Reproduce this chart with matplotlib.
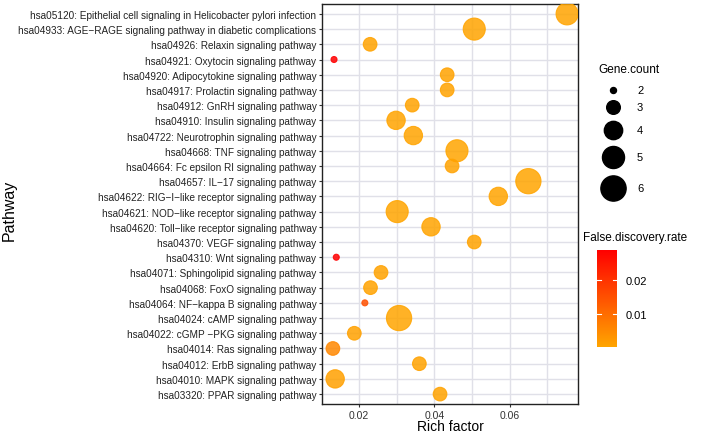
import numpy as np
import matplotlib
matplotlib.use("Agg")
from matplotlib import pyplot as plt
from matplotlib.colors import LinearSegmentedColormap, Normalize
from matplotlib.ticker import MultipleLocator

plt.rcParams['font.family'] = ['Liberation Sans', 'DejaVu Sans']

# pathways, top to bottom
pathways = [
    "hsa05120: Epithelial cell signaling in Helicobacter pylori infection",
    "hsa04933: AGE\u2212RAGE signaling pathway in diabetic complications",
    "hsa04926: Relaxin signaling pathway",
    "hsa04921: Oxytocin signaling pathway",
    "hsa04920: Adipocytokine signaling pathway",
    "hsa04917: Prolactin signaling pathway",
    "hsa04912: GnRH signaling pathway",
    "hsa04910: Insulin signaling pathway",
    "hsa04722: Neurotrophin signaling pathway",
    "hsa04668: TNF signaling pathway",
    "hsa04664: Fc epsilon RI signaling pathway",
    "hsa04657: IL\u221217 signaling pathway",
    "hsa04622: RIG\u2212I\u2212like receptor signaling pathway",
    "hsa04621: NOD\u2212like receptor signaling pathway",
    "hsa04620: Toll\u2212like receptor signaling pathway",
    "hsa04370: VEGF signaling pathway",
    "hsa04310: Wnt signaling pathway",
    "hsa04071: Sphingolipid signaling pathway",
    "hsa04068: FoxO signaling pathway",
    "hsa04064: NF\u2212kappa B signaling pathway",
    "hsa04024: cAMP signaling pathway",
    "hsa04022: cGMP \u2212PKG signaling pathway",
    "hsa04014: Ras signaling pathway",
    "hsa04012: ErbB signaling pathway",
    "hsa04010: MAPK signaling pathway",
    "hsa03320: PPAR signaling pathway",
]
rich_factor = [0.0753, 0.0506, 0.0229, 0.0133, 0.0434, 0.0434, 0.0341, 0.0298,
               0.0344, 0.0460, 0.0447, 0.0650, 0.0570, 0.0301, 0.0391, 0.0506,
               0.0139, 0.0258, 0.0230, 0.0215, 0.0306, 0.0187, 0.0130, 0.0360,
               0.0136, 0.0415]
gene_count = [5, 5, 3, 2, 3, 3, 3, 4, 4, 5, 3, 6, 4, 5, 4, 3,
              2, 3, 3, 2, 6, 3, 3, 3, 4, 3]
fdr = [0.0004, 0.0004, 0.0006, 0.029, 0.0008, 0.0008, 0.0006, 0.0005,
       0.0005, 0.0003, 0.0007, 0.0002, 0.0004, 0.0003, 0.0004, 0.0006,
       0.029, 0.0008, 0.0007, 0.015, 0.0002, 0.0009, 0.0055, 0.0007,
       0.0010, 0.0006]

legend_counts = [2, 3, 4, 5, 6]
fdr_ticks = [0.01, 0.02]


def diam_px(n):
    # area grows linearly with gene count
    return np.sqrt(36 + 150 * (np.asarray(n, dtype=float) - 2))


def size_of(n):
    return (diam_px(n) * 0.72) ** 2


cmap = LinearSegmentedColormap.from_list("fdr", ["#FFA500", "#FF0000"])
norm = Normalize(vmin=0.0002, vmax=0.029)

fig = plt.figure(figsize=(7.08, 4.35), dpi=100)
ax = fig.add_axes([322 / 708, 1 - 405 / 435, 256 / 708, 400 / 435])

y = np.arange(len(pathways))[::-1]
ax.scatter(rich_factor, y, s=size_of(gene_count), c=fdr, cmap=cmap, norm=norm,
           alpha=0.85, edgecolors=cmap(norm(fdr)), linewidths=0.8, zorder=3)

ax.set_yticks(np.arange(len(pathways)))
ax.set_yticklabels(pathways[::-1], fontsize=7.2, color="#222222")
ax.set_ylim(-0.65, len(pathways) - 0.35)
ax.set_xlim(0.0101, 0.0782)
ax.xaxis.set_minor_locator(MultipleLocator(0.01))
ax.set_xticks([0.02, 0.04, 0.06])
ax.set_xticklabels(["0.02", "0.04", "0.06"], fontsize=7.5, color="#333333")
ax.tick_params(axis='x', which='minor', length=0)
ax.tick_params(axis='both', which='major', length=2.5, width=0.8,
               color="#333333", pad=1.5)
ax.grid(True, which='both', color="#E0E0E8", linewidth=1.0, zorder=0)
ax.set_axisbelow(True)
for sp in ax.spines.values():
    sp.set_color("#222222")
    sp.set_linewidth(1.0)

fig.text(450 / 708, 1 / 435, "Rich factor", fontsize=10,
         ha='center', va='bottom')
fig.text(9 / 708, 1 - 210 / 435, "Pathway", rotation=90, fontsize=11.5,
         ha='center', va='center')

# size legend, keys stacked by their own diameters
lax = fig.add_axes([0, 0, 1, 1])
lax.set_xlim(0, 708)
lax.set_ylim(435, 0)
lax.axis('off')
fig.text(598 / 708, 1 - 70 / 435, "Gene.count", fontsize=8.5,
         ha='left', va='center')
ky = 91.0
prev = None
for n in legend_counts:
    d = diam_px(n)
    if prev is not None:
        ky += (prev + d) / 2 + 7
    lax.scatter([613], [ky], s=size_of(n), c='black')
    lax.text(637, ky, str(n), fontsize=8, ha='left', va='center')
    prev = d

# colour bar
cax = fig.add_axes([597 / 708, 1 - 348 / 435, 20 / 708, 97 / 435])
sm = plt.cm.ScalarMappable(cmap=cmap, norm=norm)
cb = fig.colorbar(sm, cax=cax, ticks=fdr_ticks)
cb.outline.set_visible(False)
cb.ax.tick_params(length=0, labelsize=8, pad=6)
for t in fdr_ticks:
    cax.axhline(t, xmin=0, xmax=0.2, color='white', lw=0.8)
    cax.axhline(t, xmin=0.8, xmax=1, color='white', lw=0.8)
fig.text(583 / 708, 1 - 238 / 435, "False.discovery.rate", fontsize=8.5,
         ha='left', va='center')

fig.savefig("out.png", dpi=100)
